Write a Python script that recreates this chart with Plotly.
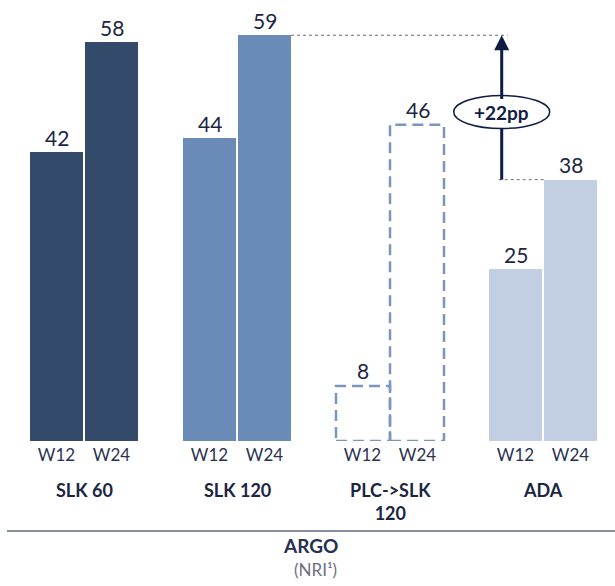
import plotly.graph_objects as go

# Response rates (NRI) at week 12 and week 24 per arm
groups = ["SLK 60", "SLK 120", "PLC->SLK<br>120", "ADA"]
weeks = ["W12", "W24"]
w12 = [42, 44, 8, 25]
w24 = [58, 59, 46, 38]
fill_colors = ["#344a6a", "#6a8bb8", None, "#c2cee1"]
gain_label = "+22pp"

W, H = 615, 586
PX_GROUP = 153          # pixels between group centres
X0_PX = 84              # pixel x of first group centre
BASE_PX = 441           # pixel y of the zero line
PX_UNIT = 6.877         # pixels per percentage point

bar_w = 53 / PX_GROUP
off = 27.5 / PX_GROUP

TXT = "#1c2542"
FONT = "Lato"

fig = go.Figure()

shapes = []
annotations = []
tickvals, ticktext = [], []

for g, name in enumerate(groups):
    xs = [g - off, g + off]
    vals = [w12[g], w24[g]]
    tickvals += xs
    ticktext += weeks
    if fill_colors[g] is not None:
        fig.add_trace(go.Bar(
            x=xs, y=vals, width=bar_w,
            marker=dict(color=fill_colors[g], line=dict(width=0)),
            hoverinfo="skip", showlegend=False,
        ))
    else:
        # open dashed boxes for the placebo cross-over arm
        edges = [(g - off - bar_w / 2, g), (g, g + off + bar_w / 2)]
        for (a, b), v in zip(edges, vals):
            shapes.append(dict(
                type="rect", xref="x", yref="y", x0=a, x1=b, y0=0, y1=v,
                line=dict(color="#7b96bb", width=2.5, dash="11px,6px"),
                fillcolor="rgba(0,0,0,0)", layer="above",
            ))
    for x, v in zip(xs, vals):
        annotations.append(dict(
            x=x, y=v, xref="x", yref="y", text=str(v), showarrow=False,
            yanchor="middle", yshift=15,
            font=dict(family=FONT, size=21, color=TXT),
        ))
    annotations.append(dict(
        x=g, y=0, xref="x", yref="paper", text=f"<b>{name}</b>",
        showarrow=False, yanchor="top", yshift=-36,
        font=dict(family=FONT, size=18, color=TXT),
    ))

# gain arrow between ADA W24 and SLK 120 W24
x_arrow = (501.7 - X0_PX) / PX_GROUP
top_v, low_v = w24[1], w24[3]
ell_v = (BASE_PX - 112) / PX_UNIT

shapes.append(dict(
    type="line", xref="x", yref="y",
    x0=1 + off + bar_w / 2, x1=x_arrow + 6 / PX_GROUP, y0=top_v, y1=top_v,
    line=dict(color="#6e6e6e", width=1, dash="dot"),
))
shapes.append(dict(
    type="line", xref="x", yref="y",
    x0=x_arrow - 3 / PX_GROUP, x1=3 + off - bar_w / 2, y0=low_v, y1=low_v,
    line=dict(color="#6e6e6e", width=1, dash="dot"),
))
shapes.append(dict(
    type="line", xref="x", yref="y",
    x0=x_arrow, x1=x_arrow, y0=low_v, y1=ell_v,
    line=dict(color="#0f1d44", width=3),
))
shapes.append(dict(
    type="circle", xref="x", yref="y",
    xsizemode="pixel", ysizemode="pixel",
    xanchor=x_arrow, yanchor=ell_v,
    x0=-48, x1=48, y0=-16.5, y1=16.5,
    fillcolor="white", line=dict(color="#0f1d44", width=1.5),
))
# label sits in the ellipse; its arrow runs up to the SLK 120 W24 level
annotations.append(dict(
    x=x_arrow, y=top_v, xref="x", yref="y", text=f"<b>{gain_label}</b>",
    showarrow=True, ax=0, ay=(top_v - ell_v) * PX_UNIT,
    arrowhead=2, arrowsize=1, arrowwidth=3, arrowcolor="#0f1d44",
    standoff=0, startstandoff=0,
    font=dict(family=FONT, size=19, color="#0f1d44"),
))

# study footer
line_y = (BASE_PX - 531) / BASE_PX
shapes.append(dict(
    type="line", xref="paper", yref="paper", x0=7 / W, x1=1,
    y0=line_y, y1=line_y, line=dict(color="#5d6784", width=1.5),
))
annotations.append(dict(
    x=310 / W, y=(BASE_PX - 545) / BASE_PX, xref="paper", yref="paper",
    text="<b>ARGO</b>", showarrow=False, yanchor="middle",
    font=dict(family=FONT, size=19, color="#26304f"),
))
annotations.append(dict(
    x=315 / W, y=(BASE_PX - 569) / BASE_PX, xref="paper", yref="paper",
    text="(NRI¹)", showarrow=False, yanchor="middle",
    font=dict(family=FONT, size=17, color="#6c7083"),
))

fig.update_layout(
    width=W, height=H,
    margin=dict(l=0, r=0, t=0, b=H - BASE_PX),
    paper_bgcolor="white", plot_bgcolor="white",
    barmode="overlay", bargap=0,
    shapes=shapes, annotations=annotations,
    xaxis=dict(
        range=[-X0_PX / PX_GROUP, (W - X0_PX) / PX_GROUP],
        tickmode="array", tickvals=tickvals, ticktext=ticktext,
        showgrid=False, zeroline=False, showline=False, ticks="",
        tickfont=dict(family=FONT, size=17, color="#2a3350"),
        ticklabelstandoff=2, fixedrange=True,
    ),
    yaxis=dict(
        range=[0, BASE_PX / PX_UNIT], visible=False,
        showgrid=False, zeroline=False, fixedrange=True,
    ),
)

fig.write_html("out.html")
